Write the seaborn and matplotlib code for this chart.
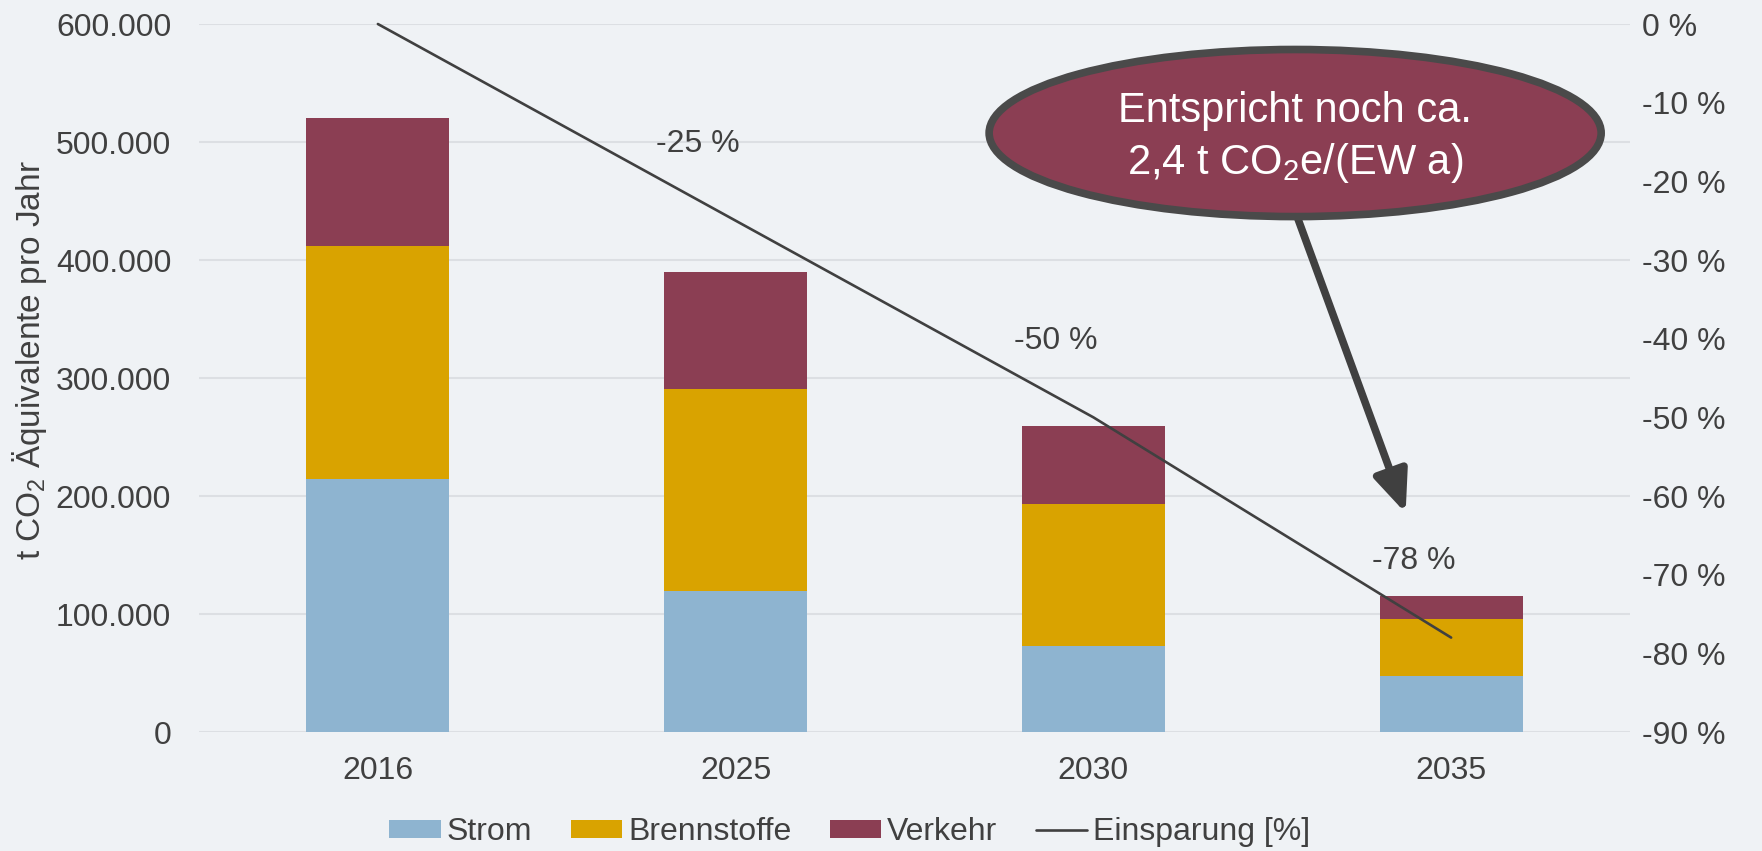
import numpy as np
import pandas as pd
import seaborn as sns
import matplotlib
matplotlib.use("Agg")
import matplotlib.pyplot as plt
from matplotlib.patches import Patch, Ellipse
from matplotlib.lines import Line2D
from matplotlib.ticker import FuncFormatter, MultipleLocator

# ---- data ----
years = ["2016", "2025", "2030", "2035"]
strom = [214000, 119500, 73000, 47500]
brennstoffe = [198000, 171200, 120500, 48300]
verkehr = [108000, 99000, 65500, 19200]
einsparung = [0, -25, -50, -78]
einsparung_labels = ["", "-25 %", "-50 %", "-78 %"]
series_names = ["Strom", "Brennstoffe", "Verkehr", "Einsparung [%]"]
callout_text = "Entspricht noch ca.\n2,4 t CO$\\mathregular{_2}$e/(EW a)"
ylabel_text = "t CO$\\mathregular{_2}$ Äquivalente pro Jahr"

# ---- style ----
bg = "#EFF2F5"
c_strom = "#8EB4D0"
c_brenn = "#D9A300"
c_verk = "#8B3E53"
c_line = "#404040"
c_text = "#404040"
grid_c = "#DCDFE3"

sns.set_theme(style="white")
plt.rcParams["font.family"] = ["Liberation Sans", "DejaVu Sans"]
plt.rcParams["mathtext.fontset"] = "custom"
plt.rcParams["mathtext.rm"] = "Liberation Sans"
plt.rcParams["mathtext.it"] = "Liberation Sans:italic"
plt.rcParams["mathtext.bf"] = "Liberation Sans:bold"

fig = plt.figure(figsize=(17.62, 8.51), dpi=100, facecolor=bg)
ax = fig.add_axes([199 / 1762, 1 - 732 / 851, 1431 / 1762, 708 / 851])
ax.set_facecolor(bg)

df = pd.DataFrame({"Jahr": years, "Strom": strom, "Brennstoffe": brennstoffe, "Verkehr": verkehr})
df["cum1"] = df["Strom"]
df["cum2"] = df["Strom"] + df["Brennstoffe"]
df["cum3"] = df["cum2"] + df["Verkehr"]

for col, colr in [("cum3", c_verk), ("cum2", c_brenn), ("cum1", c_strom)]:
    sns.barplot(data=df, x="Jahr", y=col, color=colr, width=0.4, saturation=1,
                ax=ax, linewidth=0, zorder=2)

ax.set_ylim(0, 600000)
ax.set_xlim(-0.5, 3.5)
ax.yaxis.set_major_locator(MultipleLocator(100000))
ax.yaxis.set_major_formatter(FuncFormatter(lambda v, p: f"{int(v):,}".replace(",", ".")))
ax.grid(axis="y", color=grid_c, linewidth=1.5, zorder=0)
ax.set_axisbelow(True)
for s in ax.spines.values():
    s.set_visible(False)
ax.tick_params(axis="both", length=0, labelsize=23, colors=c_text)
ax.tick_params(axis="x", pad=17)
ax.tick_params(axis="y", pad=20)
ax.set_xlabel("")
ax.set_ylabel(ylabel_text, fontsize=24, color=c_text)
ax.yaxis.set_label_coords(-0.105, 0.525)

# secondary axis with savings line
ax2 = ax.twinx()
ax2.set_ylim(-90, 0)
ax2.yaxis.set_major_locator(MultipleLocator(10))
ax2.yaxis.set_major_formatter(FuncFormatter(lambda v, p: f"{int(round(v))} %"))
for s in ax2.spines.values():
    s.set_visible(False)
ax2.tick_params(axis="y", length=0, labelsize=23, colors=c_text, pad=9)
xpos = np.arange(len(years))
sns.lineplot(x=xpos, y=einsparung, ax=ax2, color=c_line, linewidth=1.9, zorder=3)
for s in ax2.lines:
    s.set_clip_on(False)
ax2.set_xlim(-0.5, 3.5)
for xi, v, lab in zip(xpos, einsparung, einsparung_labels):
    if lab:
        ax2.annotate(lab, xy=(xi, v), xytext=(-27, 55), textcoords="offset points",
                     ha="center", va="center", fontsize=23, color=c_text)

# callout ellipse and arrow
ax2.annotate("", xy=(0.8432, 0.3093), xytext=(0.768, 0.7246),
             xycoords=ax2.transAxes, textcoords=ax2.transAxes,
             arrowprops=dict(arrowstyle="-|>,head_length=1.0,head_width=0.42",
                             lw=5.5, color=c_line, mutation_scale=25,
                             shrinkA=0, shrinkB=0), zorder=5)
ell = Ellipse((0.766, 0.846), 0.4277, 0.236, transform=ax2.transAxes,
              facecolor=c_verk, edgecolor="#4A4A4A", linewidth=5.5, zorder=6, clip_on=False)
ax2.add_patch(ell)
ax2.text(0.766, 0.839, callout_text, transform=ax2.transAxes, ha="center", va="center",
         fontsize=30, color="white", zorder=7, linespacing=1.3)

# legend
handles = [Patch(facecolor=c_strom, edgecolor="none"),
           Patch(facecolor=c_brenn, edgecolor="none"),
           Patch(facecolor=c_verk, edgecolor="none"),
           Line2D([0], [0], color=c_line, linewidth=1.9)]
leg = fig.legend(handles, series_names, loc="center", bbox_to_anchor=(850 / 1762, 1 - 832 / 851),
                 ncol=4, frameon=False, fontsize=23, handlelength=1.6, handleheight=0.5,
                 handletextpad=0.2, columnspacing=1.2, borderaxespad=0)
for t in leg.get_texts():
    t.set_color(c_text)

fig.savefig("out.png", dpi=100, facecolor=bg)
